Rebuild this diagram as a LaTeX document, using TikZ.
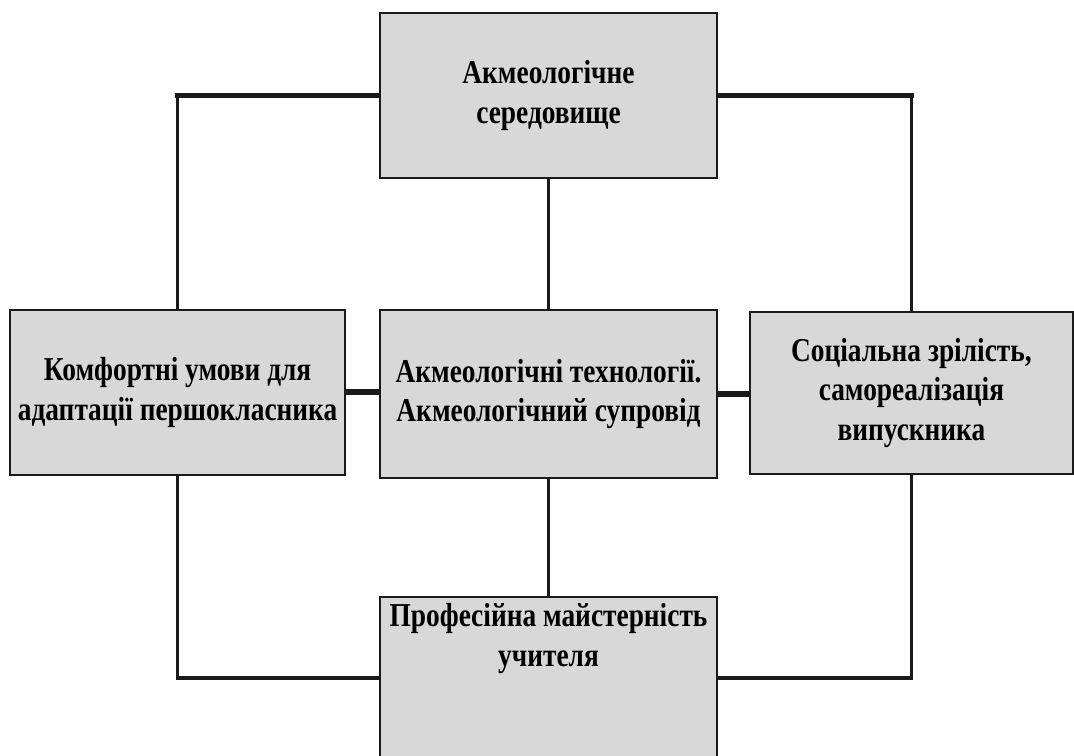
\documentclass[tikz,border=0pt]{standalone}
\usepackage{fontspec}
\usepackage{xcolor}
\usetikzlibrary{positioning,calc,backgrounds}
\newfontfamily\boxfont[FakeStretch=0.82]{Liberation Serif}
\definecolor{bk90}{HTML}{1A1A1A}
\definecolor{boxgray}{HTML}{D8D8D8}
\tikzset{
  stagebox/.style={
    rectangle, draw=bk90, fill=boxgray, line width=1.1pt,
    minimum width=#1, minimum height=3.3cm,
    font=\boxfont\bfseries\fontsize{19}{22.5}\selectfont, align=center,
    inner sep=4pt
  },
  stagebox/.default=6.74cm,
  linkline/.style={
    draw=bk90, line width=#1, line cap=rect
  },
  linkline/.default=1.7pt,
}

\begin{document}
\begin{tikzpicture}[x=0.02cm, y=-0.02cm]
  \useasboundingbox (0,0) rectangle (1074,755);
  \node[stagebox] (env) at (548.5,95.5) {Акмеологічне\\середовище};
  \node[stagebox, minimum height=3.36cm, anchor=north] at ([yshift=-2.6cm]env.south) (tech) {Акмеологічні технології.\\Акмеологічний супровід};
  \node[stagebox=6.7cm, anchor=north] at ([yshift=-2.6cm, xshift=-7.42cm]env.south) (comfort) {Комфортні умови для\\адаптації першокласника};
  \node[stagebox=6.46cm, minimum height=3.24cm, anchor=north] at ([yshift=-2.64cm, xshift=7.26cm]env.south) (mature) {Соціальна зрілість,\\самореалізація\\випускника};
  \node[stagebox, minimum height=0pt, text depth=85pt, anchor=north] at ([yshift=-2.34cm]tech.south) (master) {Професійна майстерність\\учителя};
  \coordinate (botL) at ([yshift=-1.64cm]master.north west);
  \coordinate (botR) at ([yshift=-1.64cm]master.north east);
  \begin{scope}[on background layer]
    \draw[linkline=2.6pt] (env.west) -- (env.west -| comfort.north);
    \draw[linkline] (env.west -| comfort.north) -- (comfort.north);
    \draw[linkline=2.6pt] (env.east) -- (env.east -| mature.north);
    \draw[linkline] (env.east -| mature.north) -- (mature.north);
    \draw[linkline] (env) -- (tech);
    \draw[linkline=3.5pt] (comfort.east) -- (comfort.east -| tech.west);
    \draw[linkline=3.5pt] (tech.east) -- (tech.east -| mature.west);
    \draw[linkline] (tech) -- (master);
    \draw[linkline] (comfort.south) -- (comfort.south |- botL);
    \draw[linkline=2.3pt] (comfort.south |- botL) -- (botL);
    \draw[linkline] (mature.south) -- (mature.south |- botR);
    \draw[linkline=2.3pt] (mature.south |- botR) -- (botR);
  \end{scope}
\end{tikzpicture}
\end{document}
